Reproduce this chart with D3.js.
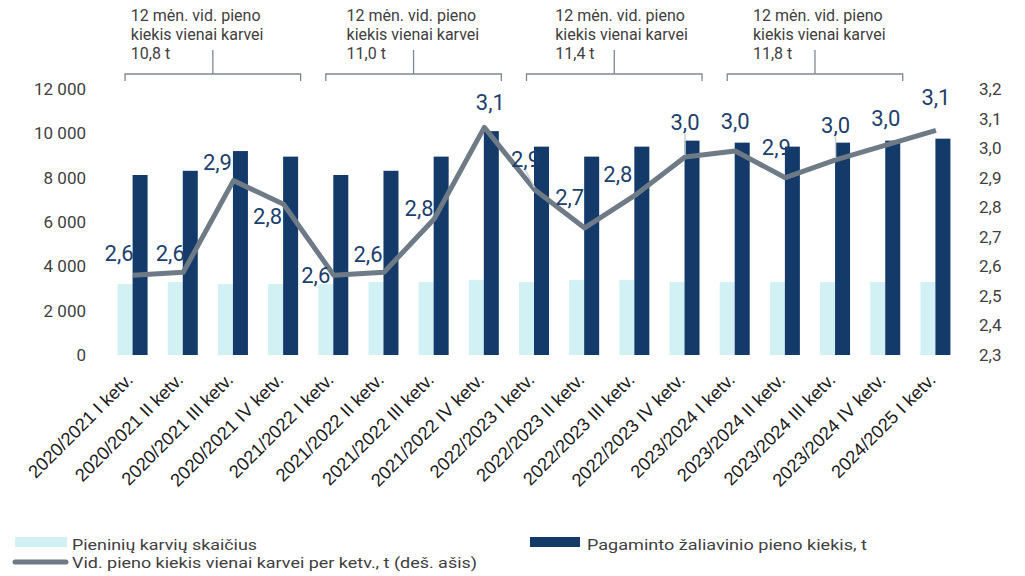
<!DOCTYPE html>
<html>
<head>
<meta charset="utf-8">
<script src="https://cdnjs.cloudflare.com/ajax/libs/d3/7.8.5/d3.min.js"></script>
<style>
  body { margin: 0; background: #fff; }
  svg { display: block; }
</style>
</head>
<body>
<div id="chart"></div>
<script>
// quarters on the x axis
var categories = [
  "2020/2021 I ketv.", "2020/2021 II ketv.", "2020/2021 III ketv.", "2020/2021 IV ketv.",
  "2021/2022 I ketv.", "2021/2022 II ketv.", "2021/2022 III ketv.", "2021/2022 IV ketv.",
  "2022/2023 I ketv.", "2022/2023 II ketv.", "2022/2023 III ketv.", "2022/2023 IV ketv.",
  "2023/2024 I ketv.", "2023/2024 II ketv.", "2023/2024 III ketv.", "2023/2024 IV ketv.",
  "2024/2025 I ketv."
];
// Pieninių karvių skaičius (light bars, left axis)
var cows = [3200, 3290, 3200, 3200, 3200, 3290, 3290, 3380, 3290, 3380, 3380, 3290, 3290, 3290, 3290, 3290, 3290];
// Pagaminto žaliavinio pieno kiekis, t (dark bars, left axis)
var milk = [8120, 8310, 9200, 8950, 8120, 8310, 8950, 10100, 9400, 8950, 9400, 9670, 9580, 9400, 9580, 9670, 9760];
// Vid. pieno kiekis vienai karvei per ketv., t (line, right axis)
var perCow = [2.57, 2.58, 2.89, 2.81, 2.57, 2.58, 2.76, 3.07, 2.86, 2.73, 2.84, 2.97, 2.99, 2.90, 2.96, 3.01, 3.06];

var leftTicks = [0, 2000, 4000, 6000, 8000, 10000, 12000];
var rightTicks = [2.3, 2.4, 2.5, 2.6, 2.7, 2.8, 2.9, 3.0, 3.1, 3.2];

// 12 month annotations above the chart
var yearFirst = [0, 4, 8, 12];
var yearLast = [3, 7, 11, 15];
var yearAvg = [10.8, 11.0, 11.4, 11.8];

// legend entries
var legendNames = ["Pieninių karvių skaičius", "Pagaminto žaliavinio pieno kiekis, t", "Vid. pieno kiekis vienai karvei per ketv., t (deš. ašis)"];

// label offsets for the line data labels (layout only)
var labelDx = [-14, -13, -16, -16, -18, -16, -15, 6, -9, -15, -17, 0, 0, -9, 0, 0, 0];
var labelDy = [-22, -19, -18, 12, 0, -18, -11, -25, -30, -30, -21, -34, -30, -30, -34, -27, -33];
var leaders = [8, 11, 14];
var annDx = [-82, -67, -59, -62];

var W = 1025, H = 576;
var dark = "#133a69", light = "#d2f1f5", lineCol = "#6e7b86", labCol = "#1d3f6d", txt = "#404040";
var font = "Roboto, 'Noto Sans', sans-serif";

var svg = d3.select("#chart").append("svg")
  .attr("width", W)
  .attr("height", H)
  .style("font-family", font);

var x = d3.scaleBand().domain(categories).range([108, 961]).padding(0);
var sub = d3.scaleBand().domain(["cows", "milk"]).range([-15.5, 14.5]).padding(0);
var yL = d3.scaleLinear().domain([0, 12000]).range([355, 89]);
var yR = d3.scaleLinear().domain([2.3, 3.2]).range([355, 89]);

function cx(i) { return x(categories[i]) + x.bandwidth() / 2; }

var fmtL = function(d) { return d3.format(",")(d).replace(/,/g, " "); };
var fmtR = function(d) { return d3.format(".1f")(d).replace(".", ","); };

// left axis
var axL = svg.append("g").attr("transform", "translate(92,0)")
  .call(d3.axisLeft(yL).tickValues(leftTicks).tickFormat(fmtL).tickSize(0).tickPadding(6));
axL.select(".domain").remove();
axL.selectAll("text").attr("font-size", "17px").attr("fill", txt).attr("font-family", font);

// right axis
var axR = svg.append("g").attr("transform", "translate(973,0)")
  .call(d3.axisRight(yR).tickValues(rightTicks).tickFormat(fmtR).tickSize(0).tickPadding(6));
axR.select(".domain").remove();
axR.selectAll("text").attr("font-size", "17px").attr("fill", txt).attr("font-family", font);

// bars
svg.append("g").selectAll("rect")
  .data(cows)
  .enter().append("rect")
  .attr("x", (d, i) => cx(i) + sub("cows"))
  .attr("y", d => yL(d))
  .attr("width", sub.bandwidth())
  .attr("height", d => yL(0) - yL(d))
  .attr("fill", light);

svg.append("g").selectAll("rect")
  .data(milk)
  .enter().append("rect")
  .attr("x", (d, i) => cx(i) + sub("milk"))
  .attr("y", d => yL(d))
  .attr("width", sub.bandwidth())
  .attr("height", d => yL(0) - yL(d))
  .attr("fill", dark);

// line
var line = d3.line()
  .x((d, i) => cx(i))
  .y(d => yR(d));

svg.append("path")
  .datum(perCow)
  .attr("d", line)
  .attr("fill", "none")
  .attr("stroke", lineCol)
  .attr("stroke-width", 5)
  .attr("stroke-linejoin", "round");

// leader lines for a few labels
leaders.forEach(function(i) {
  svg.append("line")
    .attr("x1", cx(i) + labelDx[i])
    .attr("y1", yR(perCow[i]) + labelDy[i] + 11)
    .attr("x2", cx(i))
    .attr("y2", yR(perCow[i]) - 2)
    .attr("stroke", "#c9d1d8")
    .attr("stroke-width", 1.5);
});

// data labels
svg.append("g").selectAll("text")
  .data(perCow)
  .enter().append("text")
  .attr("x", (d, i) => cx(i) + labelDx[i])
  .attr("y", (d, i) => yR(d) + labelDy[i])
  .attr("text-anchor", "middle")
  .attr("dominant-baseline", "central")
  .attr("font-size", "22px")
  .attr("fill", labCol)
  .text(d => fmtR(d));

// x labels
svg.append("g").selectAll("text")
  .data(categories)
  .enter().append("text")
  .attr("transform", (d, i) => "translate(" + (cx(i) + 1) + ",381) rotate(-45)")
  .attr("text-anchor", "end")
  .attr("font-family", "'Liberation Sans', Arial, sans-serif")
  .attr("font-size", "18.3px")
  .attr("fill", "#1a1a1a")
  .text(d => d);

// annotations with brackets
var ann = svg.append("g");
yearAvg.forEach(function(v, k) {
  var x0 = cx(yearFirst[k]) - 8;
  var x1 = cx(yearLast[k]) + 17;
  var xm = (x0 + x1) / 2;
  ann.append("path")
    .attr("d", "M" + x0 + ",81V74H" + x1 + "V81M" + xm + ",74V50")
    .attr("fill", "none")
    .attr("stroke", "#7d8892")
    .attr("stroke-width", 1.3);
  var t = ann.append("text")
    .attr("x", xm + annDx[k])
    .attr("font-size", "16px")
    .attr("fill", txt);
  t.append("tspan").attr("x", xm + annDx[k]).attr("y", 21).text("12 mėn. vid. pieno");
  t.append("tspan").attr("x", xm + annDx[k]).attr("y", 40).text("kiekis vienai karvei");
  t.append("tspan").attr("x", xm + annDx[k]).attr("y", 59).text(fmtR(v) + " t");
});

// legend (text stretched a bit wider, as in the source)
var leg = svg.append("g").attr("font-size", "15.5px").attr("fill", txt);
leg.append("rect").attr("x", 15).attr("y", 537).attr("width", 52).attr("height", 10).attr("fill", light);
leg.append("text").attr("x", 72).attr("y", 550)
  .attr("textLength", 185).attr("lengthAdjust", "spacingAndGlyphs").text(legendNames[0]);
leg.append("rect").attr("x", 530).attr("y", 537).attr("width", 50).attr("height", 10).attr("fill", dark);
leg.append("text").attr("x", 587).attr("y", 550)
  .attr("textLength", 280).attr("lengthAdjust", "spacingAndGlyphs").text(legendNames[1]);
leg.append("line").attr("x1", 15).attr("x2", 66).attr("y1", 562).attr("y2", 562)
  .attr("stroke", lineCol).attr("stroke-width", 5).attr("stroke-linecap", "round");
leg.append("text").attr("x", 72).attr("y", 568)
  .attr("textLength", 405).attr("lengthAdjust", "spacingAndGlyphs").text(legendNames[2]);
</script>
</body>
</html>
